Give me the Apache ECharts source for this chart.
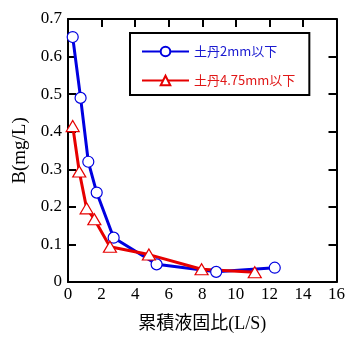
<!DOCTYPE html>
<html>
<head>
<meta charset="utf-8">
<script src="https://cdn.jsdelivr.net/npm/echarts@6/dist/echarts.min.js"></script>
<style>
html, body { margin: 0; padding: 0; background: #fff; }
#main { width: 348px; height: 338px; }
</style>
</head>
<body>
<div id="main"></div>
<script>
var seriesNames = ['土丹2mm以下', '土丹4.75mm以下'];
// 土丹2mm以下
var lsFine = [0.28, 0.75, 1.21, 1.71, 2.72, 5.28, 8.83, 12.32];
var bFine = [0.652, 0.49, 0.32, 0.238, 0.118, 0.047, 0.027, 0.038];
// 土丹4.75mm以下
var lsCoarse = [0.28, 0.67, 1.11, 1.57, 2.5, 4.82, 7.96, 11.13];
var bCoarse = [0.415, 0.294, 0.196, 0.167, 0.094, 0.073, 0.034, 0.026];

var blue = '#0000e0';
var red = '#e60000';
var serif = "'Liberation Serif', 'Times New Roman', serif";

function pairs(xs, ys) {
    var out = [];
    for (var i = 0; i < xs.length; i++) out.push([xs[i], ys[i]]);
    return out;
}

var myChart = echarts.init(document.getElementById('main'));

var option = {
    animation: false,
    backgroundColor: '#fff',
    grid: { left: 68, right: 11, top: 19, bottom: 52 },
    legend: {
        orient: 'vertical',
        left: 130,
        top: 33,
        padding: [12, 14, 8, 11],
        itemGap: 16,
        itemWidth: 47,
        itemHeight: 12,
        itemTextGap: 6,
        borderColor: '#000',
        borderWidth: 2,
        backgroundColor: '#fff',
        textStyle: { fontFamily: "'Noto Sans CJK JP'", fontSize: 13 },
        data: [
            { name: seriesNames[0], textStyle: { color: '#1a1ad0' } },
            { name: seriesNames[1], textStyle: { color: '#e01818' } }
        ]
    },
    xAxis: [{
        type: 'value',
        min: 0, max: 16, interval: 2,
        name: '累積液固比(L/S)',
        nameLocation: 'middle',
        nameGap: 33,
        nameTextStyle: { fontFamily: serif + ", 'Noto Sans CJK JP'", fontSize: 18, color: '#000' },
        axisLine: { onZero: false, lineStyle: { color: '#000', width: 2 } },
        axisTick: { show: false },
        axisLabel: { fontFamily: serif, fontSize: 17, color: '#000', margin: 4 },
        splitLine: { show: false }
    }, {
        type: 'value',
        position: 'top',
        min: 0, max: 16, interval: 2,
        axisLine: { onZero: false, lineStyle: { color: '#000', width: 2 } },
        axisTick: { inside: true, length: 8, lineStyle: { color: '#000', width: 2 } },
        axisLabel: { show: false },
        splitLine: { show: false }
    }],
    yAxis: [{
        type: 'value',
        min: 0, max: 0.7, interval: 0.1,
        name: 'B(mg/L)',
        nameLocation: 'middle',
        nameGap: 36,
        nameTextStyle: { fontFamily: serif, fontSize: 19, color: '#000' },
        axisLine: { onZero: false, lineStyle: { color: '#000', width: 2 } },
        axisTick: { inside: true, length: 8, lineStyle: { color: '#000', width: 2 } },
        axisLabel: {
            fontFamily: serif, fontSize: 17, color: '#000', margin: 6,
            formatter: function (v) { return v === 0 ? '0' : v.toFixed(1); }
        },
        splitLine: { show: false }
    }, {
        type: 'value',
        position: 'right',
        min: 0, max: 0.7, interval: 0.1,
        axisLine: { onZero: false, lineStyle: { color: '#000', width: 2 } },
        axisTick: { inside: true, length: 8, lineStyle: { color: '#000', width: 2 } },
        axisLabel: { show: false },
        splitLine: { show: false }
    }],
    series: [{
        name: seriesNames[0],
        type: 'line',
        data: pairs(lsFine, bFine),
        symbol: 'circle',
        symbolSize: 11,
        showAllSymbol: true,
        lineStyle: { color: blue, width: 3 },
        itemStyle: { color: '#fff', borderColor: blue, borderWidth: 1.2 }
    }, {
        name: seriesNames[1],
        type: 'line',
        data: pairs(lsCoarse, bCoarse),
        symbol: 'triangle',
        symbolSize: [13, 11],
        showAllSymbol: true,
        lineStyle: { color: red, width: 3 },
        itemStyle: { color: '#fff', borderColor: red, borderWidth: 1.2 }
    }]
};

myChart.setOption(option);
</script>
</body>
</html>
